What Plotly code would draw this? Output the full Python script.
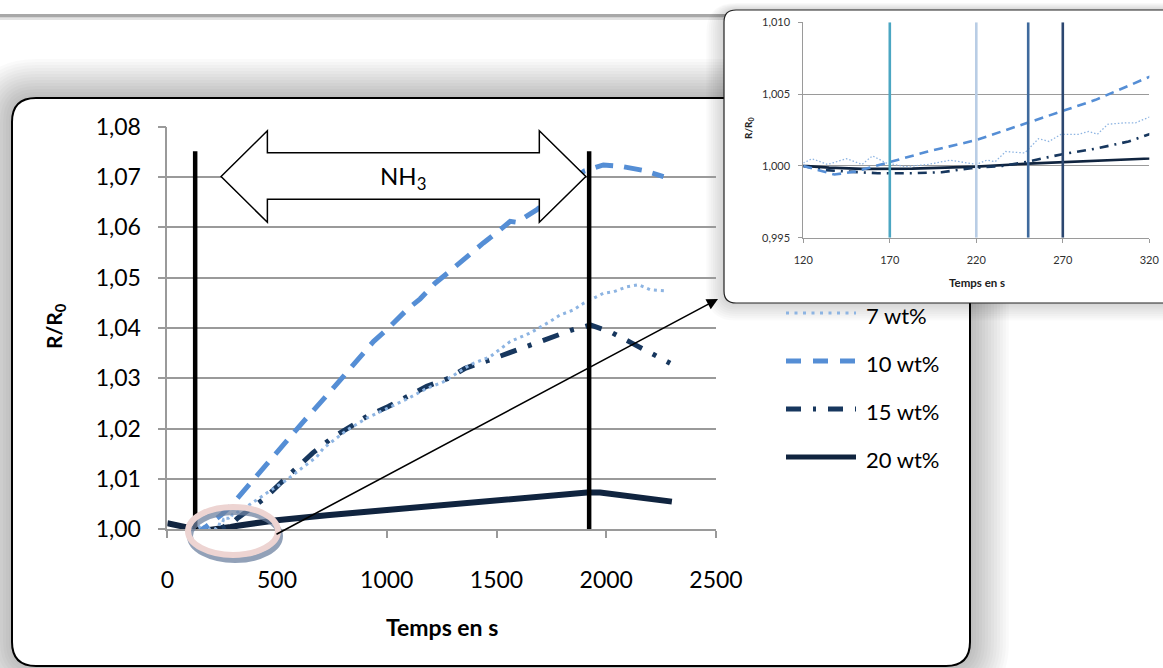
import plotly.graph_objects as go

W, H = 1163, 668

# ---------------- data ----------------
series_names = ["7 wt%", "10 wt%", "15 wt%", "20 wt%"]

t_7 = [120, 125, 134, 145, 154, 160, 168, 179, 192, 205, 220, 226, 231, 237, 248, 256, 262, 269, 279, 285,
       290, 296, 306, 312, 320, 362, 453, 544, 620, 681, 711, 818, 909, 1000, 1106, 1182, 1258, 1380, 1471,
       1562, 1653, 1744, 1790, 1851, 1896, 1942, 1987, 2033, 2094, 2147, 2200, 2268]
r_7 = [1.0002, 1.0005, 1.0001, 1.0005, 1.0001, 1.0007, 1.0002, 0.99995, 1.0001, 1.0004, 1.0001, 1.0004,
       1.0003, 1.0010, 1.0009, 1.0019, 1.0017, 1.0022, 1.0022, 1.0024, 1.0022, 1.0029, 1.0030, 1.0030,
       1.0034, 1.0045, 1.0072, 1.0098, 1.0124, 1.0144, 1.0161, 1.0197, 1.0221, 1.0240, 1.0262, 1.0280,
       1.0293, 1.0327, 1.0343, 1.0373, 1.0390, 1.0413, 1.0426, 1.0436, 1.0449, 1.0459, 1.0469, 1.0472,
       1.0482, 1.0486, 1.0476, 1.0474]

t_10 = [120, 138, 150, 171, 192, 220, 250, 269, 289, 320, 499, 620, 749, 818, 939, 1015, 1091, 1152, 1220,
        1296, 1365, 1440, 1516, 1562, 1592, 1684, 1800, 1900, 1987, 2071, 2170, 2261]
r_10 = [1.0000, 0.9994, 0.9996, 1.0003, 1.0010, 1.0018, 1.0030, 1.0038, 1.0046, 1.0062, 1.0154, 1.0214,
        1.0277, 1.0313, 1.0373, 1.0403, 1.0436, 1.0458, 1.0489, 1.0516, 1.0542, 1.0569, 1.0595, 1.0612,
        1.0610, 1.0635, 1.0680, 1.0712, 1.0724, 1.0721, 1.0713, 1.0701]

t_15 = [120, 131, 146, 163, 183, 200, 217, 235, 250, 269, 289, 308, 320, 445, 514, 590, 663, 749, 825, 912,
        1007, 1091, 1182, 1281, 1357, 1459, 1554, 1645, 1744, 1843, 1927, 2025, 2117, 2200, 2291]
r_15 = [1.0000, 0.99972, 0.9996, 0.99949, 0.99949, 0.99956, 0.99984, 1.0000, 1.0003, 1.0008, 1.0012,
        1.0017, 1.0022, 1.0062, 1.0091, 1.0121, 1.0152, 1.0181, 1.0201, 1.0225, 1.0244, 1.0264, 1.0284,
        1.0300, 1.0320, 1.0335, 1.0350, 1.0366, 1.0380, 1.0396, 1.0406, 1.0391, 1.0370, 1.0350, 1.0330]

t_20 = [0, 40, 88, 120, 135, 154, 183, 202, 220, 250, 269, 289, 320, 346, 499, 727, 954, 1106, 1410, 1714,
        1912, 1972, 2170, 2299]
r_20 = [1.0012, 1.0008, 1.0004, 1.0000, 0.99988, 0.99979, 0.99981, 0.99988, 0.99995, 1.00016, 1.0003,
        1.00046, 1.00072, 1.0009, 1.0018, 1.0028, 1.0037, 1.0042, 1.0055, 1.0066, 1.0073, 1.0073, 1.0062,
        1.0055]

nh3_start, nh3_end = 127, 1922          # black vertical markers (s)
inset_marks = [170, 220, 250, 270]      # coloured vertical markers in the zoom (s)
main_yticks = [1.00, 1.01, 1.02, 1.03, 1.04, 1.05, 1.06, 1.07, 1.08]
main_xticks = [0, 500, 1000, 1500, 2000, 2500]
inset_xticks = [120, 170, 220, 270, 320]
inset_yticks = [0.995, 1.000, 1.005, 1.010]

# ---------------- styles ----------------
FONT = "Lato"
c7, c10, c15, c20 = "#8DB4E2", "#558ED5", "#17375E", "#10243F"
mark_cols = ["#4BA6C2", "#B9CDE5", "#3F6A9D", "#2C4770"]
main_styles = {
    "7 wt%": dict(color=c7, width=3, dash="3px,4px"),
    "10 wt%": dict(color=c10, width=5, dash="18px,11px"),
    "15 wt%": dict(color=c15, width=5, dash="17px,12px,4px,12px"),
    "20 wt%": dict(color=c20, width=6, dash="solid"),
}
inset_styles = {
    "7 wt%": dict(color=c7, width=1.3, dash="1.5px,2px"),
    "10 wt%": dict(color=c10, width=2.6, dash="9px,6px"),
    "15 wt%": dict(color=c15, width=2.6, dash="9px,6px,2px,6px"),
    "20 wt%": dict(color=c20, width=2.6, dash="solid"),
}
legend_dash = {"7 wt%": "3px,5.5px", "10 wt%": "15px,12px", "15 wt%": "15px,12px,3px,12px", "20 wt%": "solid"}
data = {"7 wt%": (t_7, r_7), "10 wt%": (t_10, r_10), "15 wt%": (t_15, r_15), "20 wt%": (t_20, r_20)}


def px(x):
    return x / W


def py(y):
    return 1 - y / H


def rrect(x0, y0, x1, y1, r):
    pts = [("M", x0 + r, y0), ("L", x1 - r, y0), ("Q", x1, y0, x1, y0 + r), ("L", x1, y1 - r),
           ("Q", x1, y1, x1 - r, y1), ("L", x0 + r, y1), ("Q", x0, y1, x0, y1 - r), ("L", x0, y0 + r),
           ("Q", x0, y0, x0 + r, y0)]
    s = ""
    for p in pts:
        if p[0] == "Q":
            s += f"Q{px(p[1]):.5f},{py(p[2]):.5f} {px(p[3]):.5f},{py(p[4]):.5f} "
        else:
            s += f"{p[0]}{px(p[1]):.5f},{py(p[2]):.5f} "
    return s + "Z"


fig = go.Figure()

order = ["20 wt%", "15 wt%", "7 wt%", "10 wt%"]
for name in order:
    t, r = data[name]
    fig.add_trace(go.Scatter(x=t, y=r, mode="lines", name=name, line=main_styles[name],
                             xaxis="x", yaxis="y", showlegend=False, hoverinfo="skip"))
for name in order:
    t, r = data[name]
    fig.add_trace(go.Scatter(x=t, y=r, mode="lines", name=name, line=inset_styles[name],
                             xaxis="x2", yaxis="y2", showlegend=False, hoverinfo="skip"))

shapes = []
# top rule
shapes.append(dict(type="rect", xref="paper", yref="paper", x0=0, x1=px(730), y0=py(17.5), y1=py(14),
                   fillcolor="#A8A8A8", line_width=0, layer="below"))
shapes.append(dict(type="rect", xref="paper", yref="paper", x0=0, x1=px(730), y0=py(19.5), y1=py(18.5),
                   fillcolor="#C8C8C8", line_width=0, layer="below"))
# main box shadow
for i in range(13, 0, -1):
    g = 3 * i
    shapes.append(dict(type="path", xref="paper", yref="paper", path=rrect(12 - g, 98 - g, 970 + g, 666 + g, 24 + g),
                       fillcolor="rgba(0,0,0,0.019)", line_width=0, layer="below"))
# main box
shapes.append(dict(type="path", xref="paper", yref="paper", path=rrect(12, 98, 970, 666, 24),
                   fillcolor="white", line=dict(color="black", width=2), layer="below"))
# inset shadow
for i in range(8, 0, -1):
    g = 2.2 * i
    shapes.append(dict(type="path", xref="paper", yref="paper",
                       path=rrect(724 - g, 10 - g * 0.4, 1190, 303 + g, 12 + g),
                       fillcolor="rgba(0,0,0,0.02)", line_width=0, layer="below"))
# inset box
shapes.append(dict(type="path", xref="paper", yref="paper", path=rrect(724, 10, 1190, 303, 12),
                   fillcolor="white", line=dict(color="#222222", width=1.2), layer="below"))

# inset coloured markers
for tm, col in zip(inset_marks, mark_cols):
    shapes.append(dict(type="line", xref="x2", yref="y2", x0=tm, x1=tm, y0=0.995, y1=1.010,
                       line=dict(color=col, width=2.6), layer="above"))

# NH3 double block arrow (data coordinates)
ax_l, ax_lb, ax_rb, ax_r = 245, 456, 1695, 1907
y_mid, y_ht, y_hb, y_st, y_sb = 1.0701, 1.0792, 1.0610, 1.0748, 1.0656
arrow_path = (f"M{ax_l},{y_mid} L{ax_lb},{y_ht} L{ax_lb},{y_st} L{ax_rb},{y_st} L{ax_rb},{y_ht} "
              f"L{ax_r},{y_mid} L{ax_rb},{y_hb} L{ax_rb},{y_sb} L{ax_lb},{y_sb} L{ax_lb},{y_hb} Z")
shapes.append(dict(type="path", xref="x", yref="y", path=arrow_path, fillcolor="white",
                   line=dict(color="black", width=1.5), layer="above"))
for tm in (nh3_start, nh3_end):
    shapes.append(dict(type="line", xref="x", yref="y", x0=tm, x1=tm, y0=1.0, y1=1.0751,
                       line=dict(color="black", width=4.5), layer="above"))

# ring (with shadow)
cx, cy, rx, ry = 233, 531, 45, 24
shapes.append(dict(type="circle", xref="paper", yref="paper", x0=px(cx - rx + 2), x1=px(cx + rx + 2),
                   y0=py(cy + ry + 5), y1=py(cy - ry + 5), line=dict(color="rgba(110,130,160,0.75)", width=6),
                   layer="above"))
shapes.append(dict(type="circle", xref="paper", yref="paper", x0=px(cx - rx), x1=px(cx + rx),
                   y0=py(cy + ry), y1=py(cy - ry), line=dict(color="#EDD4D2", width=6), layer="above"))

# manual legend
leg_y = [313, 361, 409, 457]
for name, yy in zip(series_names, leg_y):
    st = main_styles[name]
    shapes.append(dict(type="line", xref="paper", yref="paper", x0=px(786), x1=px(856), y0=py(yy), y1=py(yy),
                       line=dict(color=st["color"], width=min(st["width"], 5), dash=legend_dash[name]),
                       layer="above"))

annotations = []
for name, yy in zip(series_names, leg_y):
    annotations.append(dict(xref="paper", yref="paper", x=px(864), y=py(yy + 2), text=name, showarrow=False,
                            xanchor="left", yanchor="middle", font=dict(family=FONT, size=22, color="black")))

annotations.append(dict(xref="x", yref="y", x=1072, y=1.0700, text="NH<sub>3</sub>", showarrow=False,
                        xanchor="center", yanchor="middle", font=dict(family=FONT, size=24, color="black")))
annotations.append(dict(xref="paper", yref="paper", x=px(718), y=py(299), ax=275 - 718, ay=535 - 299,
                        text="", showarrow=True, arrowhead=2, arrowsize=1.4, arrowwidth=1.6,
                        arrowcolor="black", standoff=0))
annotations.append(dict(xref="paper", yref="paper", x=px(442), y=py(627), text="<b>Temps en s</b>",
                        xanchor="center", yanchor="middle",
                        showarrow=False, font=dict(family=FONT, size=23, color="black")))
annotations.append(dict(xref="paper", yref="paper", x=px(55), y=py(326), text="<b>R/R<sub>0</sub></b>",
                        xanchor="center", yanchor="middle",
                        textangle=-90, showarrow=False, font=dict(family=FONT, size=21, color="black")))
annotations.append(dict(xref="paper", yref="paper", x=px(977), y=py(283), text="<b>Temps en s</b>",
                        xanchor="center", yanchor="middle",
                        showarrow=False, font=dict(family=FONT, size=11.5, color="#202020")))
annotations.append(dict(xref="paper", yref="paper", x=px(749), y=py(128), text="<b>R/R<sub>0</sub></b>",
                        xanchor="center", yanchor="middle",
                        textangle=-90, showarrow=False, font=dict(family=FONT, size=10, color="#202020")))

GRID = "#9A9A9A"
fig.update_layout(
    template="none",
    width=W, height=H, margin=dict(l=0, r=0, t=0, b=0, pad=0), autosize=False,
    paper_bgcolor="white", plot_bgcolor="rgba(0,0,0,0)",
    separators=", ", showlegend=False,
    shapes=shapes, annotations=annotations,
    xaxis=dict(domain=[px(167.3), px(716)], range=[0, 2500], tickvals=main_xticks, automargin=False,
               ticks="outside", ticklen=7, tickwidth=1.5, tickcolor=GRID, showline=True, linecolor=GRID,
               linewidth=1.5, showgrid=False, zeroline=False, ticklabelstandoff=22,
               tickfont=dict(family=FONT, size=23, color="black"), fixedrange=True),
    yaxis=dict(domain=[py(529.3), py(126.7)], range=[1.0, 1.08], tickvals=main_yticks, tickformat=".2f",
               automargin=False,
               ticks="outside", ticklen=8, tickwidth=1.5, tickcolor=GRID, showline=True, linecolor=GRID,
               linewidth=1.5, showgrid=True, gridcolor=GRID, gridwidth=1.5, zeroline=False,
               ticklabelstandoff=12, tickfont=dict(family=FONT, size=23, color="black"), fixedrange=True),
    xaxis2=dict(domain=[px(803.3), px(1149.3)], range=[120, 320], tickvals=inset_xticks, anchor="y2",
                automargin=False,
                ticks="outside", ticklen=4, tickwidth=1, tickcolor=GRID, showline=True, linecolor=GRID,
                linewidth=1, showgrid=False, zeroline=False, ticklabelstandoff=8,
                tickfont=dict(family=FONT, size=11, color="#303030"), fixedrange=True),
    yaxis2=dict(domain=[py(237.7), py(22.3)], range=[0.995, 1.010], tickvals=inset_yticks, tickformat=".3f",
                anchor="x2", automargin=False, ticks="outside", ticklen=4, tickwidth=1, tickcolor=GRID,
                showline=True, linecolor=GRID, linewidth=1, showgrid=True, gridcolor=GRID, gridwidth=1,
                zeroline=False, ticklabelstandoff=6, tickfont=dict(family=FONT, size=11, color="#303030"),
                fixedrange=True),
)

fig.write_html("out.html", config={"displayModeBar": False},
               post_script="document.body.style.margin='0';document.body.style.overflow='hidden';")
